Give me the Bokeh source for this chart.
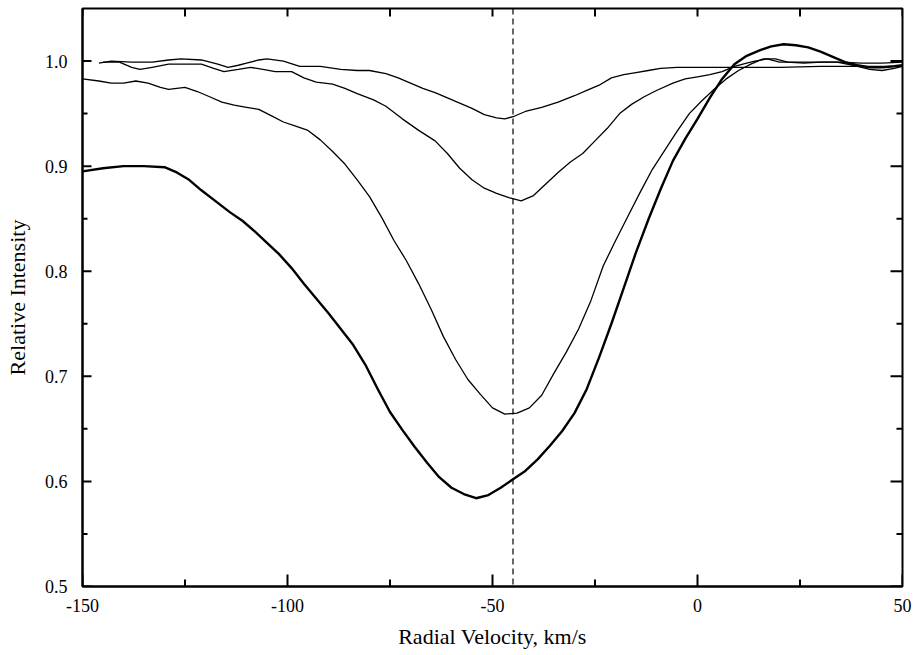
import math
from bokeh.plotting import figure
from bokeh.models import FixedTicker, Span, Range1d
from bokeh.embed import file_html
from bokeh.resources import INLINE

# ---- data ----
x_ticks = [-150, -100, -50, 0, 50]
x_minor = [-125, -75, -25, 25]
x_tick_labels = ["-150", "-100", "-50", "0", "50"]
y_ticks = [0.5, 0.6, 0.7, 0.8, 0.9, 1.0]
y_minor = [0.55, 0.65, 0.75, 0.85, 0.95]
y_tick_labels = ["0.5", "0.6", "0.7", "0.8", "0.9", "1.0"]
marker_velocity = -45

# shallowest profile
a_x = [-146, -143, -138, -133, -129, -126, -121, -117, -114.5, -112, -110, -107, -105, -101, -97,
       -92, -87, -83, -80, -76, -73, -70, -67, -64, -61, -58, -55, -52, -49, -47, -45, -42, -38,
       -34, -30, -27, -24, -21, -18, -15, -12, -9, -5, 0, 10, 20, 30, 40, 50]
a_y = [0.998, 1.000, 0.999, 0.999, 1.001, 1.002, 1.001, 0.997, 0.994, 0.996, 0.998, 1.001, 1.002,
       1.000, 0.995, 0.995, 0.992, 0.991, 0.991, 0.988, 0.984, 0.979, 0.974, 0.970, 0.965, 0.960,
       0.955, 0.949, 0.946, 0.945, 0.947, 0.952, 0.956, 0.961, 0.967, 0.972, 0.977, 0.984, 0.987,
       0.989, 0.991, 0.993, 0.994, 0.994, 0.994, 0.994, 0.995, 0.995, 0.995]

# second profile
b_x = [-145, -141, -138, -136, -133, -129, -125, -121, -118, -115.5, -112, -109, -106, -103, -99,
       -96, -93, -89, -86, -83, -79, -76, -72, -68, -64, -61, -58, -55, -52, -49, -46, -43, -40,
       -37, -34, -31, -28, -25, -22, -19, -16, -13, -10, -6, -3, 0, 3, 6, 9, 12, 14, 17, 20, 25,
       30, 35, 40, 45, 50]
b_y = [0.999, 0.999, 0.994, 0.992, 0.994, 0.997, 0.997, 0.997, 0.993, 0.990, 0.992, 0.994, 0.992,
       0.990, 0.990, 0.984, 0.980, 0.978, 0.974, 0.969, 0.963, 0.957, 0.945, 0.934, 0.924, 0.912,
       0.898, 0.887, 0.879, 0.874, 0.870, 0.867, 0.872, 0.883, 0.894, 0.904, 0.912, 0.924, 0.936,
       0.950, 0.959, 0.966, 0.972, 0.979, 0.983, 0.985, 0.987, 0.990, 0.995, 0.998, 1.000, 1.002,
       0.999, 0.999, 0.999, 0.999, 0.998, 0.998, 0.999]

# third profile
c_x = [-150, -146, -143, -140, -137, -134, -131, -129, -127, -125, -122, -119, -116, -113, -110,
       -107, -104, -101, -98, -95, -92, -89, -86, -83, -80, -77, -74, -71, -68, -65, -62, -59, -56,
       -53, -50, -47, -44, -41, -38, -35, -32, -29, -26, -23, -20, -17, -14, -11, -8, -5, -2, 1, 4,
       7, 10, 13, 16, 19, 22, 26, 30, 34, 38, 42, 45, 48, 50]
c_y = [0.983, 0.981, 0.979, 0.979, 0.981, 0.979, 0.975, 0.973, 0.974, 0.975, 0.971, 0.966, 0.961,
       0.958, 0.956, 0.954, 0.948, 0.942, 0.938, 0.934, 0.925, 0.914, 0.902, 0.887, 0.871, 0.851,
       0.829, 0.810, 0.788, 0.764, 0.738, 0.716, 0.697, 0.683, 0.670, 0.664, 0.665, 0.670, 0.682,
       0.703, 0.723, 0.745, 0.772, 0.805, 0.829, 0.852, 0.875, 0.897, 0.915, 0.933, 0.950, 0.962,
       0.973, 0.983, 0.991, 0.997, 1.002, 1.002, 0.999, 0.998, 0.999, 0.999, 0.996, 0.992, 0.991,
       0.993, 0.995]

# deepest profile (heavy line)
d_x = [-150, -145, -140, -135, -130, -127, -124, -121, -117, -114, -111, -108, -105, -102, -99,
       -96, -93, -90, -87, -84, -81, -78, -75, -72, -69, -66, -63, -60, -57, -54, -51, -48, -45,
       -42, -39, -36, -33, -30, -27, -24, -21, -18, -15, -12, -9, -6, -3, 0, 3, 6, 9, 12, 15, 18,
       21, 24, 27, 30, 33, 36, 39, 42, 45, 48, 50]
d_y = [0.895, 0.898, 0.900, 0.900, 0.899, 0.894, 0.887, 0.877, 0.865, 0.856, 0.848, 0.838, 0.827,
       0.816, 0.803, 0.788, 0.774, 0.760, 0.745, 0.730, 0.711, 0.688, 0.666, 0.649, 0.633, 0.618,
       0.604, 0.594, 0.588, 0.584, 0.587, 0.594, 0.602, 0.610, 0.621, 0.634, 0.648, 0.665, 0.688,
       0.718, 0.750, 0.784, 0.818, 0.849, 0.878, 0.905, 0.926, 0.945, 0.965, 0.983, 0.997, 1.005,
       1.010, 1.014, 1.016, 1.015, 1.013, 1.009, 1.004, 0.999, 0.996, 0.994, 0.994, 0.995, 0.996]

FONT = "Liberation Serif, Times New Roman, serif"
X0, X1, Y0, Y1 = -150, 50, 0.5, 1.05
W, H = 915, 655
BL, BR, BT, BB = 82, 13, 8, 69

p = figure(width=W, height=H, output_backend="svg", toolbar_location=None,
           x_range=Range1d(X0, X1), y_range=Range1d(Y0, Y1),
           min_border_left=BL, min_border_right=BR, min_border_top=BT, min_border_bottom=BB,
           background_fill_color="white", border_fill_color="white")
p.grid.visible = False
p.outline_line_color = "black"
p.outline_line_width = 2

xa = p.xaxis[0]
xa.ticker = FixedTicker(ticks=x_ticks, minor_ticks=x_minor)
xa.major_label_overrides = {t: l for t, l in zip(x_ticks, x_tick_labels)}
xa.axis_label = "Radial Velocity, km/s"
ya = p.yaxis[0]
ya.ticker = FixedTicker(ticks=y_ticks, minor_ticks=y_minor)
ya.major_label_overrides = {t: l for t, l in zip(y_ticks, y_tick_labels)}
ya.axis_label = "Relative Intensity"

for ax in (xa, ya):
    ax.axis_line_color = "black"
    ax.axis_line_width = 2
    ax.major_tick_in = 0
    ax.major_tick_out = 0
    ax.minor_tick_in = 0
    ax.minor_tick_out = 0
    ax.major_tick_line_color = None
    ax.minor_tick_line_color = None
    ax.major_label_text_font = FONT
    ax.major_label_text_font_size = "18px"
    ax.major_label_text_color = "black"
    ax.axis_label_text_font = FONT
    ax.axis_label_text_font_size = "22px"
    ax.axis_label_text_font_style = "normal"
    ax.axis_label_text_color = "black"
xa.major_label_standoff = 12
xa.axis_label_standoff = 9
ya.major_label_standoff = 15
ya.axis_label_standoff = 12

# inward ticks.  Horizontal ones: rays of fixed screen length.
def hticks(ys, xv, length, angle):
    p.ray(x=[xv] * len(ys), y=ys, length=length, length_units="screen", angle=angle,
          line_color="black", line_width=2)

hticks(y_ticks, X0, 9, 0)
hticks(y_minor, X0, 5, 0)
hticks(y_ticks, X1, 12, math.pi)
hticks(y_minor, X1, 6, math.pi)

# vertical ones: segments whose pixel length is converted to data units of the y range
px_per_y = (H - BT - BB) / (Y1 - Y0)

def vticks(xs, yv, length_px, direction):
    dy = direction * length_px / px_per_y
    p.segment(x0=xs, y0=[yv] * len(xs), x1=xs, y1=[yv + dy] * len(xs),
              line_color="black", line_width=2)

vticks(x_ticks, Y0, 12, 1)
vticks(x_minor, Y0, 7, 1)
vticks(x_ticks + x_minor, Y1, 8, -1)

p.add_layout(Span(location=marker_velocity, dimension="height", line_color="black",
                  line_width=1.2, line_dash="6 4"))

p.line(a_x, a_y, line_color="black", line_width=1.3, line_join="round")
p.line(b_x, b_y, line_color="black", line_width=1.3, line_join="round")
p.line(c_x, c_y, line_color="black", line_width=1.3, line_join="round")
p.line(d_x, d_y, line_color="black", line_width=2.4, line_join="round")

open("out.html", "w").write(file_html(p, INLINE))
